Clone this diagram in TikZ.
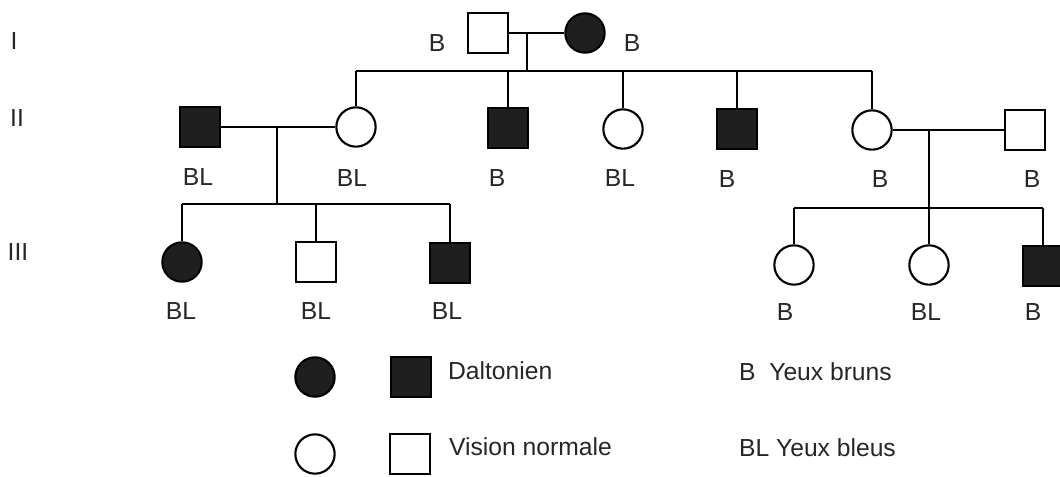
\documentclass[tikz,border=0pt]{standalone}
\usepackage{fontspec}
\setmainfont{Liberation Sans}

\begin{document}
\begin{tikzpicture}[x=0.75pt,y=-0.75pt,line width=1.6pt,
    male/.style={draw,rectangle,minimum size=29.5pt,inner sep=0pt},
    female/.style={draw,circle,minimum size=29.5pt,inner sep=0pt},
    ill/.style={fill=black!88},
    txt/.style={text=black!85,inner sep=0pt,font=\fontsize{18.5}{20}\selectfont},
    keytxt/.style={txt,anchor=west}]
    \useasboundingbox (0,0) rectangle (1060,476);

    % generations
    \node[txt] (gI) at (14,41) {I};
    \node[txt] (gII) at (17,118) {II};
    \node[txt] (gIII) at (18,252) {III};

    % generation I
    \node[male] (I1) at (488,33) {};
    \node[female,ill] (I2) at (585,33) {};
    \node[txt] (tI1) at (437,43) {B};
    \node[txt] (tI2) at (632,43) {B};
    \draw (I1) -- (I2);
    \coordinate (mI) at (527,33);
    \coordinate (sI) at (527,71);
    \draw (mI) -- (sI);

    % generation II
    \node[male,ill] (II1) at (200,127) {};
    \node[female] (II2) at (356,127) {};
    \node[male,ill] (II3) at (508,128) {};
    \node[female] (II4) at (623,129) {};
    \node[male,ill] (II5) at (737,129) {};
    \node[female] (II6) at (872,130) {};
    \node[male] (II7) at (1025,130) {};
    \node[txt] (tII1) at (198,177) {BL};
    \node[txt] (tII2) at (352,178) {BL};
    \node[txt] (tII3) at (497,178) {B};
    \node[txt] (tII4) at (620,178) {BL};
    \node[txt] (tII5) at (727,179) {B};
    \node[txt] (tII6) at (880,179) {B};
    \node[txt] (tII7) at (1032,179) {B};
    \draw (II2 |- sI) -- (II6 |- sI);
    \foreach \n in {II2,II3,II4,II5,II6}
      \draw (\n) -- (\n |- sI);
    \draw (II1) -- (II2);
    \draw (II6) -- (II7);

    % generation III
    \node[female,ill] (III1) at (182,262) {};
    \node[male] (III2) at (316,262) {};
    \node[male,ill] (III3) at (450,263) {};
    \node[female] (III4) at (794,265) {};
    \node[female] (III5) at (929,265) {};
    \node[male,ill] (III6) at (1043,266) {};
    \node[txt] (tIII1) at (181,311) {BL};
    \node[txt] (tIII2) at (316,311) {BL};
    \node[txt] (tIII3) at (447,311) {BL};
    \node[txt] (tIII4) at (785,312) {B};
    \node[txt] (tIII5) at (926,312) {BL};
    \node[txt] (tIII6) at (1033,312) {B};

    \coordinate (mII) at (277,127);
    \coordinate (sII) at (277,204);
    \draw (mII) -- (sII);
    \draw (III1 |- sII) -- (III3 |- sII);
    \foreach \n in {III1,III2,III3}
      \draw (\n) -- (\n |- sII);

    \coordinate (mIII) at (929,130);
    \coordinate (sIII) at (929,208);
    \draw (mIII) -- (sIII);
    \draw (III4 |- sIII) -- (III6 |- sIII);
    \foreach \n in {III4,III5,III6}
      \draw (\n) -- (\n |- sIII);

    % key
    \node[female,ill] (kf1) at (315,377) {};
    \node[male,ill] (km1) at (411,377) {};
    \node[female] (kf2) at (315,454) {};
    \node[male] (km2) at (410,454) {};
    \node[keytxt] (k1) at (447,371) {Daltonien};
    \node[keytxt] (k2) at (448,447) {Vision normale};
    \node[keytxt] (k3) at (738,372) {B\hspace{0.28em} Yeux bruns};
    \node[keytxt] (k4) at (738,448) {BL Yeux bleus};
\end{tikzpicture}
\end{document}
